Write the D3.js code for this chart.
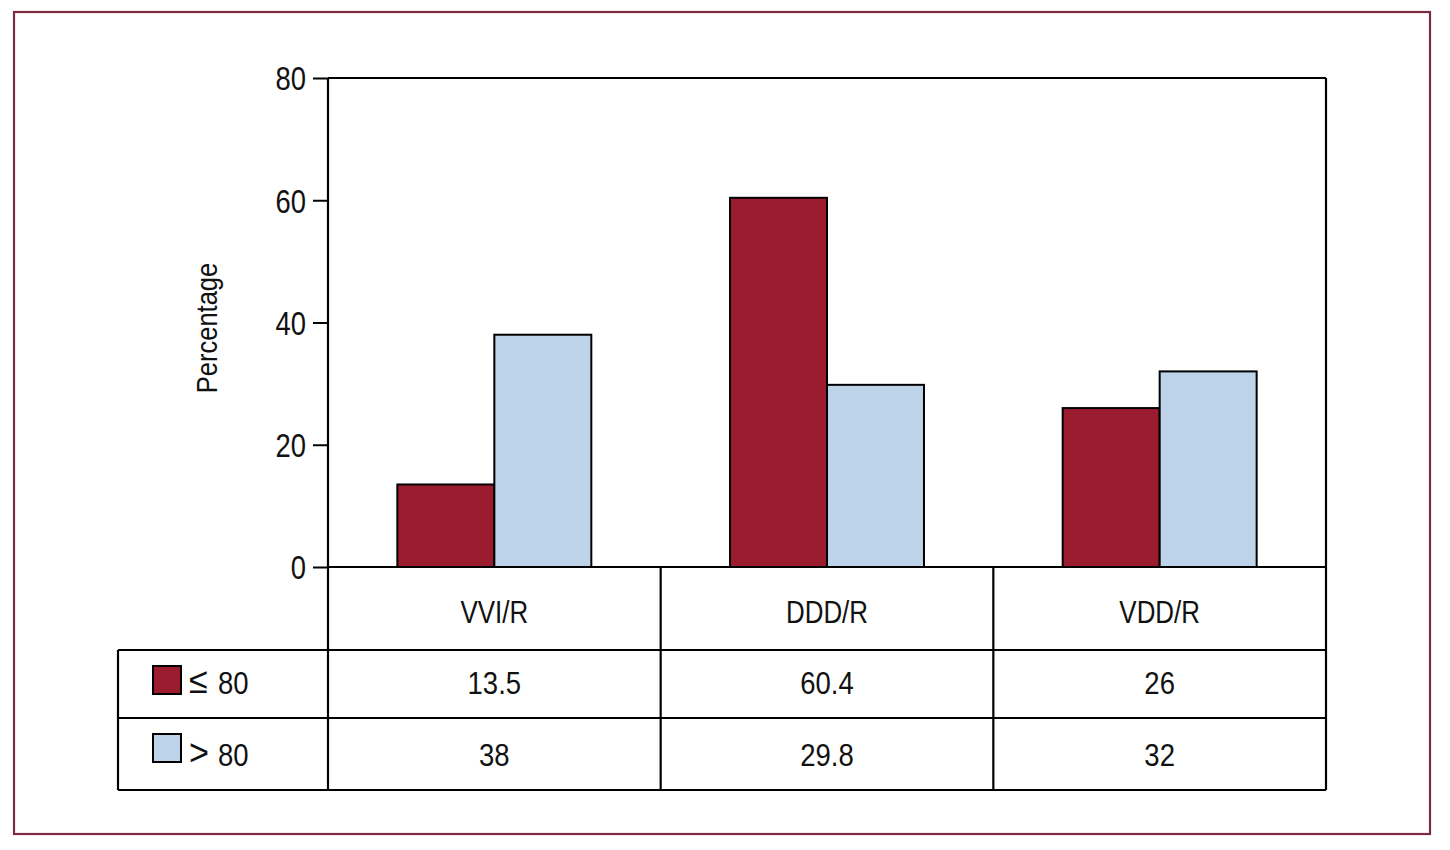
<!DOCTYPE html>
<html><head><meta charset="utf-8">
<script src="https://cdn.jsdelivr.net/npm/d3@7"></script>
<style>
html,body{margin:0;padding:0;background:#fff;}
svg text{font-family:"Liberation Sans","Arimo","Helvetica",Arial,sans-serif;fill:#111;}
</style></head>
<body>
<svg id="chart" width="1450" height="850"></svg>
<script>
const categories = ["VVI/R", "DDD/R", "VDD/R"];
const seriesNames = ["\u2264 80", "> 80"];
const lowAge = [13.5, 60.4, 26];
const highAge = [38, 29.8, 32];
const yTicks = [0, 20, 40, 60, 80];
const colors = ["#9b1c2f", "#bcd3ea"];

(function () {
const SX = 0.83; // horizontal squeeze to mimic a condensed face
const svg = d3.select("#chart");
const pLeft = 328, pRight = 1326, pTop = 78, pBase = 567;
const row1 = 650, row2 = 718, pBottom = 790, tableLeft = 118;

// outer frame
svg.append("rect").attr("x", 14).attr("y", 12).attr("width", 1416).attr("height", 822)
  .attr("fill", "none").attr("stroke", "#7d2b40").attr("stroke-width", 2.2);

const x = d3.scaleBand().domain(categories).range([pLeft, pRight]).padding(0);
const x1 = d3.scaleBand().domain(seriesNames).range([0, x.bandwidth()]).paddingInner(0).paddingOuter(0.715);
const y = d3.scaleLinear().domain([0, 80]).range([pBase, pTop]);

const series = [lowAge, highAge];

// bars
series.forEach((vals, si) => {
  svg.append("g").selectAll("rect").data(categories).join("rect")
    .attr("x", c => x(c) + x1(seriesNames[si]))
    .attr("y", (c, i) => y(vals[i]))
    .attr("width", x1.bandwidth())
    .attr("height", (c, i) => pBase - y(vals[i]))
    .attr("fill", colors[si]).attr("stroke", "#000").attr("stroke-width", 2);
});

// y axis
const yAxis = d3.axisLeft(y).tickValues(yTicks).tickSize(15).tickPadding(7).tickFormat(d3.format("d"));
const ya = svg.append("g").attr("transform", `translate(${pLeft},0)`).call(yAxis);
ya.select(".domain").remove();
ya.selectAll(".tick line").attr("stroke", "#000").attr("stroke-width", 2);
ya.selectAll(".tick text").style("font-size", "33px").attr("fill", "#111")
  .attr("x", -22 / SX).attr("dy", "0.36em").attr("transform", `scale(${SX},1)`);

const line = (a, b, c, d) => svg.append("line").attr("x1", a).attr("y1", b).attr("x2", c).attr("y2", d)
  .attr("stroke", "#000").attr("stroke-width", 2.2);

// plot frame
line(pLeft, pTop, pRight, pTop);
line(pLeft, pTop, pLeft, pBottom);
line(pRight, pTop, pRight, pBottom);
line(pLeft, pBase, pRight, pBase);
// table lines
line(tableLeft, row1, pRight, row1);
line(tableLeft, row2, pRight, row2);
line(tableLeft, pBottom, pRight, pBottom);
line(tableLeft, row1, tableLeft, pBottom);
categories.slice(1).forEach(c => line(x(c), pBase, x(c), pBottom));

// y label
svg.append("text").attr("transform", `translate(217,328) rotate(-90) scale(${SX + 0.02},1)`)
  .attr("text-anchor", "middle").style("font-size", "30px").text("Percentage");

// category labels
svg.append("g").selectAll("text").data(categories).join("text")
  .attr("transform", c => `translate(${x(c) + x.bandwidth() / 2},623) scale(${SX - 0.02},1)`)
  .attr("text-anchor", "middle").style("font-size", "32px").text(c => c);

// value rows
const rowBaselines = [694, 766];
const rowTops = [row1, row2];
series.forEach((vals, si) => {
  svg.append("g").selectAll("text").data(categories).join("text")
    .attr("transform", c => `translate(${x(c) + x.bandwidth() / 2},${rowBaselines[si]}) scale(${SX + 0.03},1)`)
    .attr("text-anchor", "middle").style("font-size", "32px").text((c, i) => vals[i]);
  svg.append("rect").attr("x", 153).attr("y", rowTops[si] + 16).attr("width", 28).attr("height", 28)
    .attr("fill", colors[si]).attr("stroke", "#000").attr("stroke-width", 2);
  const parts = seriesNames[si].split(" ");
  svg.append("text").attr("transform", `translate(189,${rowBaselines[si] - 1}) scale(0.95,1)`)
    .style("font-size", "36px").style("font-weight", "300").text(parts[0]);
  svg.append("text").attr("transform", `translate(218,${rowBaselines[si]}) scale(${SX + 0.03},1)`)
    .style("font-size", "32px").text(parts[1]);
});
})();
</script>
</body></html>
